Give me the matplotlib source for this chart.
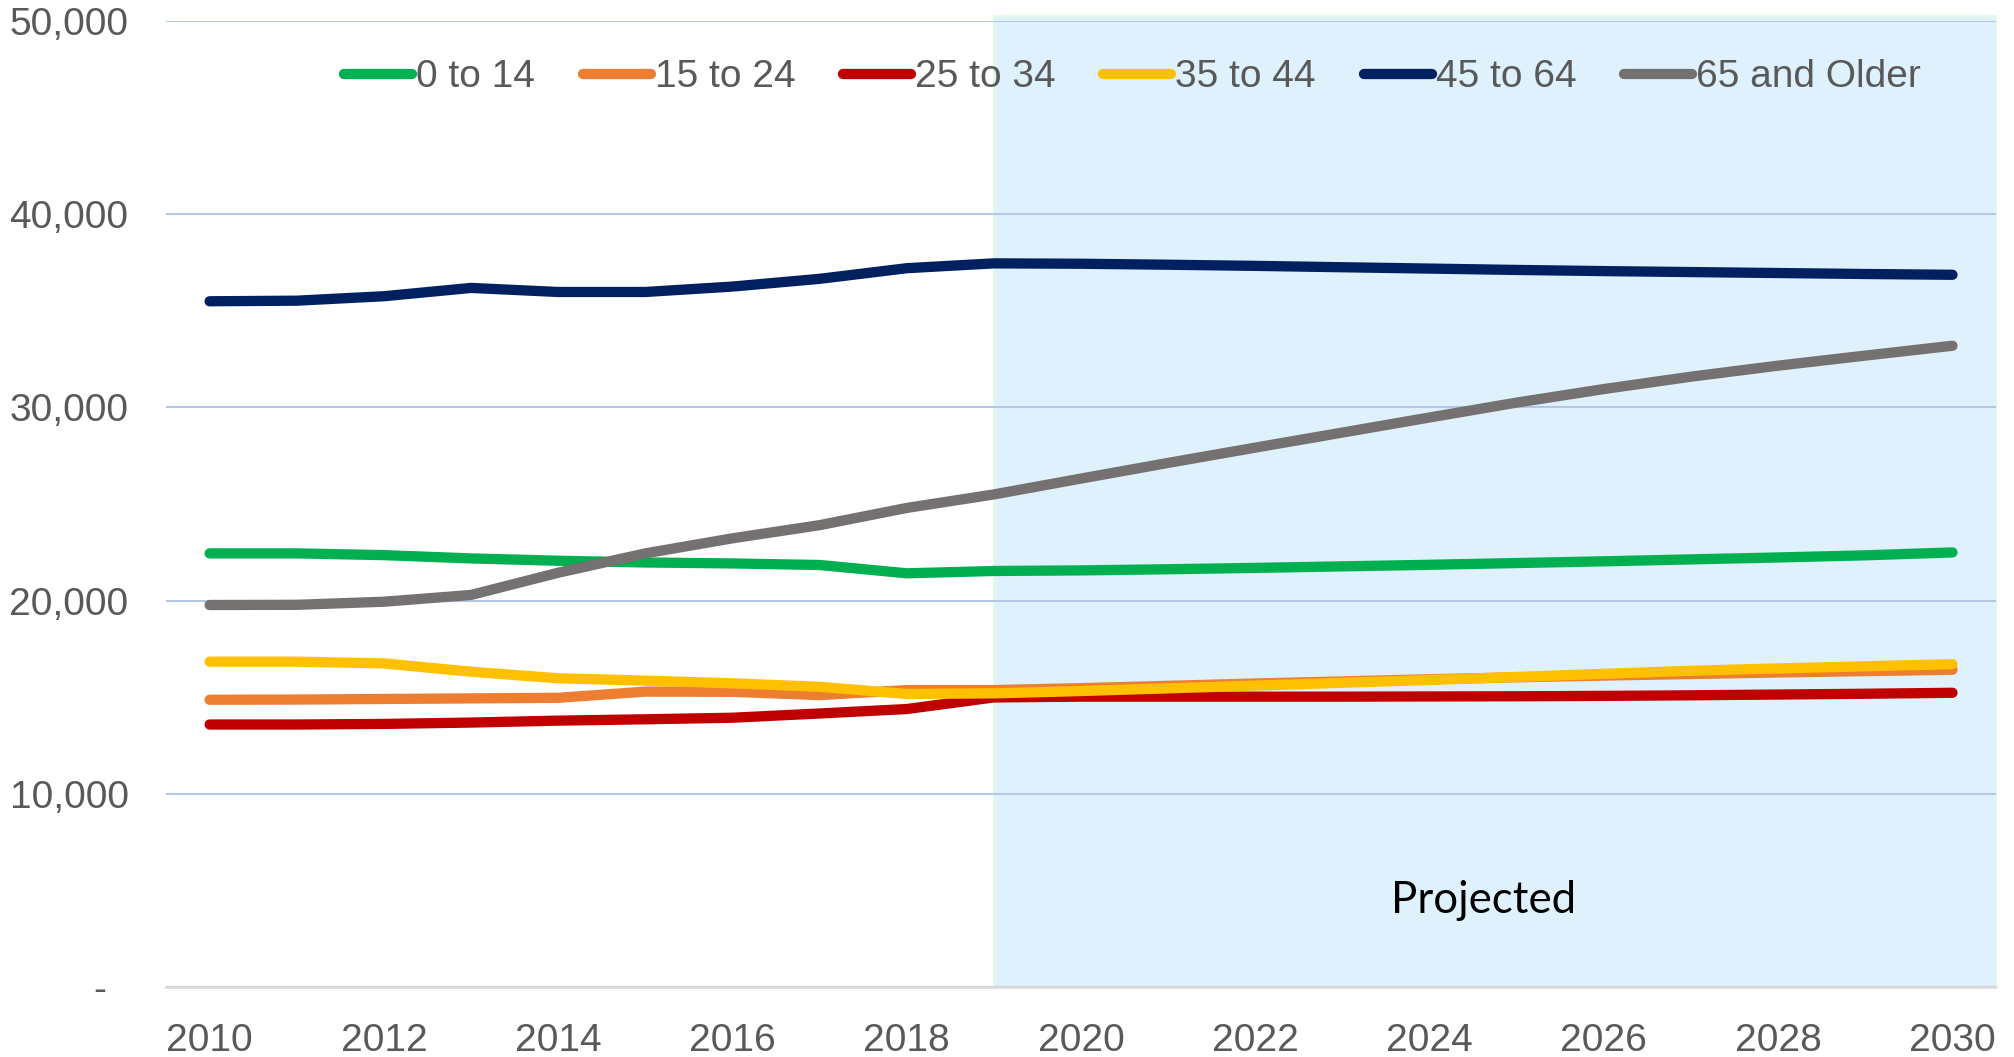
import numpy as np
import matplotlib.pyplot as plt
from matplotlib.ticker import FixedLocator

plt.rcParams['font.family'] = ['Liberation Sans', 'DejaVu Sans']

# population by age group, 2010-2018 actual, 2019+ projected
years = list(range(2010, 2031))
age_0_14 = [22450, 22450, 22360, 22190, 22070, 21980, 21930, 21850, 21420, 21540, 21570,
            21630, 21700, 21780, 21860, 21950, 22040, 22140, 22240, 22350, 22500]
age_15_24 = [14880, 14890, 14920, 14950, 14980, 15300, 15290, 15120, 15380, 15380, 15480,
             15600, 15720, 15830, 15940, 16040, 16130, 16210, 16290, 16360, 16430]
age_25_34 = [13600, 13600, 13630, 13700, 13800, 13870, 13950, 14170, 14400, 15000, 15040,
             15040, 15040, 15040, 15050, 15060, 15080, 15110, 15150, 15190, 15240]
age_35_44 = [16850, 16850, 16760, 16330, 15990, 15870, 15730, 15550, 15180, 15210, 15330,
             15470, 15610, 15760, 15900, 16060, 16220, 16380, 16500, 16610, 16720]
age_45_64 = [35490, 35520, 35750, 36180, 35970, 35970, 36250, 36650, 37200, 37450, 37430,
             37380, 37320, 37250, 37180, 37110, 37050, 37000, 36950, 36900, 36860]
age_65_plus = [19780, 19790, 19950, 20300, 21450, 22450, 23230, 23910, 24800, 25500, 26320,
               27130, 27920, 28700, 29480, 30250, 30950, 31590, 32160, 32680, 33190]

series = [("0 to 14", age_0_14, "#00b050"),
          ("15 to 24", age_15_24, "#ed7d31"),
          ("25 to 34", age_25_34, "#c00000"),
          ("35 to 44", age_35_44, "#ffc000"),
          ("45 to 64", age_45_64, "#002060"),
          ("65 and Older", age_65_plus, "#767171")]

projection_start = 2019
y_ticks = [0, 10000, 20000, 30000, 40000, 50000]
x_ticks = list(range(2010, 2031, 2))

fig = plt.figure(figsize=(20.15, 10.57), dpi=100)
ax = fig.add_axes([0.0824, 0.0658, 0.9082, 0.9146])

# projected region
ax.axvspan(projection_start, 2030.5, ymin=0, ymax=1.005, color="#dff1fd",
           ec="#e4f8e4", lw=1.5, zorder=0, clip_on=False)

for name, vals, col in series:
    ax.plot(years, vals, color=col, lw=7.4, label=name, solid_capstyle="round",
            solid_joinstyle="round", zorder=3)

ax.set_xlim(2009.5, 2030.5)
ax.set_ylim(0, 50000)

ax.yaxis.set_major_locator(FixedLocator(y_ticks))
ax.set_yticklabels(["-  " if v == 0 else f"{v:,}" for v in y_ticks])
ax.set_xticks(x_ticks)
ax.set_xticklabels([str(x) for x in x_ticks])

ax.grid(axis="y", color="#b4c7e7", lw=1.5, zorder=1)
ax.set_axisbelow(True)
for s in ["top", "left", "right"]:
    ax.spines[s].set_visible(False)
ax.spines["bottom"].set_color("#d9d9d9")
ax.spines["bottom"].set_linewidth(1.8)
ax.spines["bottom"].set_zorder(2)

ax.tick_params(axis="y", length=0, pad=27, labelsize=28, labelcolor="#595959")
ax.tick_params(axis="x", length=0, pad=25.5, labelsize=28, labelcolor="#595959")

ax.text(2024.62, 4500, "Projected", fontsize=31.5, color="black",
        family=["Lato", "DejaVu Sans"], ha="center", va="center")

leg = fig.legend(loc="center", bbox_to_anchor=(0.562, 0.927), ncol=6, frameon=False,
                 fontsize=28, handlelength=1.75, handletextpad=0.1, columnspacing=1.23)
for t in leg.get_texts():
    t.set_color("#595959")
for h in leg.get_lines():
    h.set_linewidth(7.4)
    h.set_solid_capstyle("round")

fig.savefig("out.png", dpi=100)
